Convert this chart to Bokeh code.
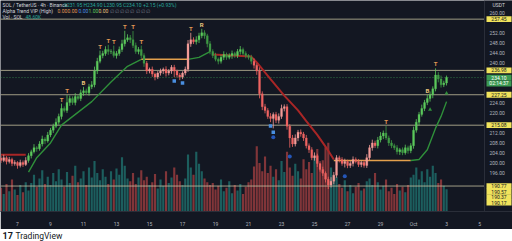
from bokeh.plotting import figure
from bokeh.models import Range1d, FixedTicker, Label
from bokeh.layouts import column
from bokeh.embed import file_html
from bokeh.resources import INLINE
from bokeh.core.properties import value

# ---- SOL/USDT 4h candles from Sep 6 00:00 (x measured in days) ----
first_open = 202.0
close = [
    201.0, 202.1, 200.6, 201.4, 199.8, 200.2, 199.0, 200.2, 199.4, 201.0,
    202.9, 204.5, 206.1, 205.7, 207.6, 209.6, 208.8, 211.2, 213.1, 214.7, 216.3, 218.6,
    221.8, 221.0, 224.1, 225.7, 224.1, 226.5, 225.7, 228.0, 228.8, 228.0, 230.4, 231.2,
    236.7, 240.6, 242.9, 243.7, 245.3, 244.5, 244.5, 242.9, 243.7, 245.3, 247.6, 249.2, 250.0, 249.2, 246.9,
    244.5, 245.3, 242.9, 239.8,
    236.7, 237.4, 235.5, 234.3, 235.9, 236.7, 237.4, 235.9, 236.7, 238.2, 236.7, 235.1, 234.3, 235.9, 237.4,
    247.6, 249.2, 248.4, 249.2, 250.8, 252.0, 250.8, 247.6, 244.5,
    242.9, 241.4, 240.6, 242.2, 243.3, 242.2, 242.9, 243.7, 242.9, 244.5, 245.3, 243.7, 242.9, 242.2, 240.6,
    239.0, 236.7, 227.6, 222.5,
    221.0, 218.6, 217.8, 219.4, 217.05, 218.6, 221.8, 222.5,
    214.7, 210.0, 207.6, 210.0, 212.3, 211.6, 210.0,
    206.9, 205.3, 202.1, 202.9, 199.8, 197.4, 195.9, 193.5, 191.2, 192.7, 195.1,
    202.1, 201.4, 199.8, 200.6, 199.0, 199.8, 201.4, 200.6, 199.4, 200.2, 199.0, 202.1,
    206.1, 208.0, 206.9, 209.2, 210.8, 211.95, 210.0, 208.0, 206.9, 206.1, 204.5, 205.3, 204.1, 206.1, 204.9, 206.9,
    213.1, 216.3, 219.4, 221.8, 224.1, 225.7, 227.25, 229.6, 235.1, 233.5, 231.2, 231.95, 234.1,
]
upper_wick = [
    0.8, 1.2, 0.6, 1.0, 0.7, 0.9, 0.5, 1.1, 0.8, 1.3,
    1.0, 0.8, 1.4, 0.6, 1.1, 1.3, 0.7, 1.2, 0.9, 1.0, 1.5, 1.1,
    1.9, 0.8, 3.0, 1.2, 0.9, 1.4, 0.8, 1.3, 1.6, 0.9, 1.2, 1.5,
    1.8, 1.4, 2.0, 1.1, 1.3, 1.9, 0.9, 2.4, 1.0, 1.2, 1.6, 3.6, 1.4, 1.1, 3.5,
    1.2, 1.0, 1.6, 0.9,
    0.9, 0.7, 1.1, 0.6, 0.8, 1.0, 0.7, 1.2, 0.8, 0.9, 1.0, 0.6, 0.8, 0.7, 1.1,
    1.5, 2.8, 1.0, 1.4, 1.2, 1.6, 1.0, 0.8, 1.1,
    0.9, 1.1, 0.7, 1.0, 1.3, 0.8, 0.9, 1.2, 0.7, 1.0, 1.4, 0.8, 0.9, 0.6, 1.0,
    1.2, 0.8, 1.5, 1.0,
    1.1, 0.9, 1.3, 0.8, 1.0, 1.2, 1.5, 0.9,
    1.0, 0.8, 1.2, 1.4, 0.9, 1.1, 0.8,
    1.2, 0.9, 1.0, 1.3, 0.8, 0.9, 1.1, 0.7, 1.0, 1.6, 1.3,
    1.0, 0.8, 0.9, 1.1, 0.7, 0.9, 1.2, 0.8, 1.0, 0.7, 0.9, 1.4,
    1.1, 1.3, 0.9, 1.2, 1.5, 1.0, 2.8, 0.9, 1.1, 0.8, 1.0, 0.7, 0.9, 1.2, 0.8, 1.0,
    1.4, 1.2, 1.0, 1.5, 1.1, 1.5, 1.3, 1.0, 2.7, 1.2, 1.4, 0.9, 0.8,
]
lower_wick = [
    1.0, 0.7, 1.2, 0.8, 1.1, 0.9, 1.3, 0.8, 1.0, 0.6,
    0.9, 1.1, 0.7, 1.2, 0.8, 1.0, 1.3, 0.7, 0.9, 1.1, 0.8, 1.0,
    1.2, 0.8, 1.0, 1.3, 0.9, 1.1, 0.7, 1.0, 1.2, 0.8, 1.1, 0.9,
    1.0, 1.2, 0.8, 1.1, 0.9, 1.3, 1.0, 0.8, 1.2, 0.9, 1.0, 1.1, 0.8, 1.3, 1.0,
    0.9, 1.1, 1.0, 1.4,
    1.2, 0.9, 1.1, 1.3, 0.8, 1.0, 1.2, 1.4, 0.9, 1.1, 2.4, 1.0, 1.2, 0.8, 0.9,
    1.0, 1.2, 0.9, 1.1, 1.3, 1.0, 1.2, 1.4, 1.1,
    1.0, 0.8, 1.2, 0.9, 1.1, 1.0, 0.8, 1.3, 0.9, 1.0, 1.2, 0.8, 1.1, 0.9, 1.2,
    1.3, 1.5, 1.8, 1.4,
    1.2, 1.0, 1.5, 4.0, 1.1, 1.3, 1.0, 1.2,
    1.4, 3.9, 1.2, 1.0, 1.3, 1.1, 1.2,
    1.1, 1.3, 1.0, 1.2, 1.4, 0.9, 1.1, 1.3, 1.6, 1.0, 1.2,
    1.0, 1.2, 0.9, 1.6, 1.1, 1.0, 1.2, 0.8, 1.0, 1.1, 0.9, 1.0,
    1.0, 1.2, 0.9, 1.1, 1.0, 1.3, 0.8, 1.2, 1.0, 0.9, 1.1, 1.3, 1.0, 0.8, 1.2, 1.0,
    1.2, 1.0, 1.3, 0.9, 1.1, 1.0, 1.2, 1.4, 1.0, 1.3, 1.1, 0.9, 1.0,
]
volume_k = [
    52, 38, 60, 44, 70, 48, 36, 58, 42, 64,
    46, 62, 80, 54, 72, 90, 60, 76, 58, 84, 66, 92,
    70, 54, 86, 62, 78, 100, 64, 72, 88, 58, 96, 74,
    110, 84, 68, 92, 76, 60, 88, 70, 94, 80, 118, 100, 72, 66, 84,
    60, 74, 90, 68,
    76, 58, 64, 82, 50, 70, 56, 88, 62, 74, 96, 80, 66, 58, 72,
    124, 96, 80, 130, 104, 88, 72, 64, 58,
    62, 48, 56, 70, 44, 52, 66, 40, 58, 46, 60, 38, 54, 64, 70,
    98, 142, 106, 88,
    120, 84, 100, 76, 92, 68, 110, 86,
    130, 96, 78, 104, 88, 72, 114,
    92, 108, 84, 120, 136, 98, 112, 140, 150, 96, 80,
    76, 60, 52, 68, 44, 58, 40, 54, 62, 46, 50, 66,
    72, 58, 84, 64, 48, 56, 70, 44, 52, 38, 60, 46, 54, 42, 58, 74,
    80, 96, 70, 88, 64, 92, 76, 100, 84, 62, 70, 56, 48.6,
]
# bar colouring state of the trend indicator, as runs of candles
bar_state_runs = [("dn", 10), ("up", 43), ("dn", 18), ("up", 21), ("dn", 45), ("up", 26)]

# Alpha Trend line (candle index, value, state)
trend_idx = [0, 9, 10, 13, 18, 22, 33, 40, 46, 51, 51, 68, 68, 72, 76,
             77, 91, 93, 98, 103, 108, 111, 115, 119, 121, 121, 149,
             149, 152, 155, 158, 160, 162]
trend_val = [203.3, 203.3, 196.3, 202.1, 208.0, 215.1, 224.5, 232.3, 238.6, 241.4,
             241.4, 241.4, 241.4, 242.2, 244.5,
             243.3, 242.5, 240.2, 233.5, 226.9, 221.0, 216.7, 211.2, 204.9, 201.4,
             201.0, 201.0, 201.0, 201.4, 205.3, 213.9, 218.6, 224.5]
trend_state = ["dn", "dn"] + ["up"] * 8 + ["flat"] * 2 + ["up"] * 3 + ["dn"] * 10 + ["flat"] * 2 + ["up"] * 6

# signal marks (candle indices)
marks_T = [22, 24, 36, 39, 41, 45, 48, 51, 69, 140, 158]
marks_B = [30, 155]
marks_R = [73]
blue_squares = [63, 66, 98, 99]
blue_circles = [99, 105, 125]
green_triangles = [156, 162]

# drawn horizontal levels
level_lines = [257.45, 236.98, 227.25, 215.08]
stack_levels = [190.77, 190.57, 190.37, 190.17]

day_ticks = list(range(1, 30, 2))
day_labels = ["7", "9", "11", "13", "15", "17", "19", "21", "23", "25", "27", "29", "Oct", "3", "5"]
price_ticks = [260, 252, 248, 244, 240, 224, 220, 212, 208, 204, 200, 196]

# ---------------------------------------------------------------------------
BG = "#131722"
TXT = "#b2b5be"
FONT = "Roboto"
Y0, Y1 = 180.6, 264.9
FRAME_H = 215
CHART_W = 484                      # chart pane width, price scale to its right
X0 = -0.03
DX = 29.33 / CHART_W               # days per pixel
X1 = X0 + 512 * DX
PX = (Y1 - Y0) / FRAME_H           # price per pixel


def px_x(px):
    return X0 + px * DX


def px_y(py):
    return Y1 - py * PX


n = len(close)
t = [i / 6 for i in range(n)]
opens = [first_open] + close[:-1]
highs = [max(o, c) + w for o, c, w in zip(opens, close, upper_wick)]
lows = [min(o, c) - w for o, c, w in zip(opens, close, lower_wick)]
states = [s for s, k in bar_state_runs for _ in range(k)]


def body_color(s, o, c):
    if s == "up":
        return "#5cc95c" if c >= o else "#3f9a45"
    return "#ef6461" if c < o else "#f39c98"


colors = [body_color(s, o, c) for s, o, c in zip(states, opens, close)]
vol_colors = ["#26a69a" if c >= o else "#ef5350" for o, c in zip(opens, close)]

p = figure(width=512, height=229, x_range=Range1d(X0, X1), y_range=Range1d(Y0, Y1),
           output_backend="svg", toolbar_location=None, y_axis_location=None,
           background_fill_color=BG, border_fill_color=BG, outline_line_color=None,
           min_border_left=0, min_border_top=0, min_border_bottom=14, min_border_right=0)
p.grid.visible = False
p.extra_y_ranges = {"vol": Range1d(0, 460)}

# volume
p.vbar(x=t, width=0.13, top=volume_k, bottom=0, y_range_name="vol",
       fill_color=vol_colors, line_color=None, fill_alpha=0.5)

# horizontal levels across the chart pane
chart_right = px_x(CHART_W)
p.segment(x0=[X0] * (len(level_lines) + 1), x1=[chart_right] * (len(level_lines) + 1),
          y0=level_lines + [stack_levels[0]], y1=level_lines + [stack_levels[0]],
          line_color="#cfc9a6", line_alpha=0.75, line_width=1)
p.segment(x0=[X0], x1=[chart_right], y0=[close[-1]], y1=[close[-1]],
          line_color="#3fa356", line_alpha=0.7, line_width=1, line_dash="1 2")

# trend line, grouped by state
seg_colors = {"up": "#2f8f3a", "dn": "#a82626", "flat": "#e3a04c"}
seg_widths = {"up": 1.4, "dn": 2.0, "flat": 1.4}
start = 0
for k in range(1, len(trend_idx) + 1):
    if k == len(trend_idx) or trend_state[k] != trend_state[start]:
        xs = [trend_idx[j] / 6 for j in range(start, k)]
        ys = trend_val[start:k]
        p.line(xs, ys, line_color=seg_colors[trend_state[start]], line_width=seg_widths[trend_state[start]])
        start = k

# candles
p.segment(x0=t, y0=lows, x1=t, y1=highs, line_color=colors, line_width=0.8)
p.vbar(x=t, width=0.12, top=[max(o, c) for o, c in zip(opens, close)],
       bottom=[min(o, c) for o, c in zip(opens, close)], fill_color=colors, line_color=colors, line_width=0.3)


# signal marks
def above(idx, px):
    return [t[i] for i in idx], [highs[i] + px * PX for i in idx]


def below(idx, px):
    return [t[i] for i in idx], [lows[i] - px * PX for i in idx]


for idx, ch, col in ((marks_T, "T", "#e39a55"), (marks_B, "B", "#e8c27a"), (marks_R, "R", "#e8c27a")):
    xs, ys = above(idx, 1)
    p.text(xs, ys, text=[ch] * len(xs), text_color=col, text_font_size="6px", text_align="center",
           text_baseline="bottom", text_font=value(FONT), text_font_style="bold")
xs, ys = below(blue_squares, 4)
p.scatter(xs, ys, marker="square", size=3.5, fill_color="#4a8fe0", line_color=None)
xs, ys = below(blue_circles, 9)
p.scatter(xs, ys, marker="circle", size=4, fill_color="#2456b8", line_color=None)
xs, ys = below(green_triangles, 8)
p.scatter(xs, ys, marker="triangle", size=4, fill_color="#2f8f3a", line_color=None)

# price scale pane
p.quad(left=[chart_right], right=[X1], bottom=[Y0], top=[Y1], fill_color=BG, line_color=None)
p.segment(x0=[chart_right], x1=[chart_right], y0=[Y0], y1=[Y1], line_color="#2a2e39", line_width=1)
p.text([px_x(CHART_W + 5)] * len(price_ticks), price_ticks,
       text=[f"{v:.2f}" for v in price_ticks], text_color=TXT, text_font_size="5px",
       text_font=value(FONT), text_baseline="middle", text_align="left")

# bottom time axis
p.xaxis.ticker = FixedTicker(ticks=day_ticks)
p.xaxis.major_label_overrides = {d: s for d, s in zip(day_ticks, day_labels)}
p.xaxis.major_label_text_font_size = "5px"
p.xaxis.major_label_text_color = TXT
p.xaxis.major_label_text_font = FONT
p.xaxis.major_tick_line_color = None
p.xaxis.minor_tick_line_color = None
p.xaxis.axis_line_color = "#2a2e39"
p.xaxis.major_label_standoff = 3


def label(px, py, text, color, size="5px", bg=None, style="normal"):
    kw = dict(background_fill_color=bg, padding=1) if bg else {}
    p.add_layout(Label(x=px_x(px), y=px_y(py), text=text, text_color=color, text_font_size=size,
                       text_font=FONT, text_baseline="middle", text_align="left",
                       text_font_style=style, **kw))


# header
last_o, last_h, last_l, last_c = opens[-1], highs[-1], lows[-1], close[-1]
chg = last_c - close[-2]
label(2, 5, "SOL / TetherUS · 4h · Binance", "#d1d4dc")
label(63, 5, f"O{last_o:.2f} H{last_h:.2f} L{last_l:.2f} C{last_c:.2f} {chg:+.2f} ({chg / close[-2] * 100:+.2f}%)",
      "#26a69a")
label(2, 11, "Alpha Trend VIP (High)", "#d1d4dc")
label(57, 11, "0.00", "#e39a55")
label(67, 11, "0.00", "#e39a55")
label(78, 11, "0.00", "#4a8fe0")
label(88, 11, "1.00", "#5cc95c")
label(98, 11, "0.00", "#e8c27a")
label(109, 11, "∅ ∅ ∅ ∅ ∅ ∅ ∅ ∅", "#787b86")
label(2, 16.5, "Vol · SOL", "#d1d4dc")
label(25, 16.5, f"{volume_k[-1]:.2f}K", "#26a69a")

# price-scale tags
TAG_W = 25
TAG_CX = px_x(CHART_W + 2 + TAG_W / 2)
label(CHART_W + 8, 5, "USDT", "#d1d4dc")
tag_y, tag_txt, tag_bg, tag_fg = [], [], [], []
for lv in level_lines:
    tag_y.append(lv); tag_txt.append(f"{lv:.2f}"); tag_bg.append("#f0e35c"); tag_fg.append("#131722")
tag_y.append(last_c); tag_txt.append(f"{last_c:.2f}"); tag_bg.append("#3c9a52"); tag_fg.append("#ffffff")
tag_y.append(last_c - 6 * PX); tag_txt.append("02:14:37"); tag_bg.append("#3c9a52"); tag_fg.append("#ffffff")
for k, lv in enumerate(stack_levels):
    tag_y.append(stack_levels[0] - k * 5.6 * PX); tag_txt.append(f"{lv:.2f}")
    tag_bg.append("#f0e35c"); tag_fg.append("#131722")
p.rect(x=[TAG_CX] * len(tag_y), y=tag_y, width=TAG_W, height=5.8, width_units="screen",
       height_units="screen", fill_color=tag_bg, line_color=None)
p.text([TAG_CX] * len(tag_y), tag_y, text=tag_txt, text_color=tag_fg, text_font_size="5px",
       text_font=value(FONT), text_baseline="middle", text_align="center")

# footer strip with the brand mark
f = figure(width=512, height=12, x_range=Range1d(0, 512), y_range=Range1d(0, 12),
           output_backend="svg", toolbar_location=None, min_border=0,
           background_fill_color="white", border_fill_color="white", outline_line_color=None)
f.axis.visible = False
f.grid.visible = False
f.text([2], [6], text=["17"], text_color="#131722", text_font_size="9px", text_font=value(FONT),
       text_font_style="bold", text_baseline="middle")
f.text([15], [6], text=["TradingView"], text_color="#131722", text_font_size="8.5px",
       text_font=value(FONT), text_baseline="middle")

layout = column(p, f, spacing=0)
open("out.html", "w").write(file_html(layout, INLINE))
